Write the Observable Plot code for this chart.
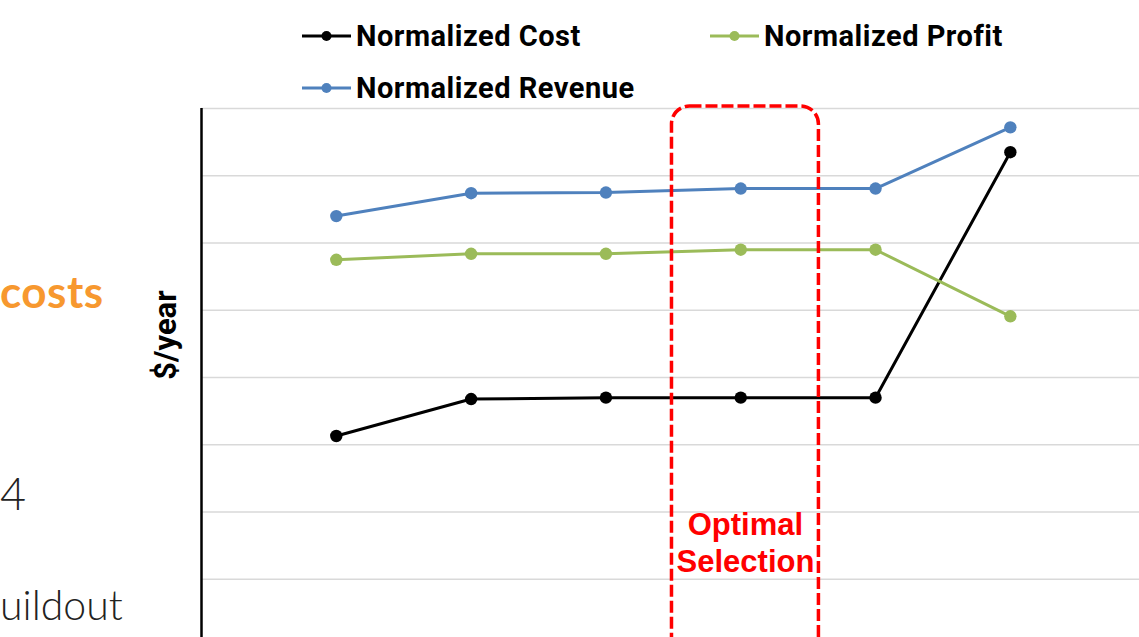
<!DOCTYPE html>
<html>
<head>
<meta charset="utf-8">
<script src="https://cdn.jsdelivr.net/npm/d3@7"></script>
<script src="https://cdn.jsdelivr.net/npm/@observablehq/plot@0.6"></script>
<style>
  html, body { margin: 0; padding: 0; background: #fff; overflow: hidden; width: 1139px; height: 637px; }
  #page { position: relative; width: 1139px; height: 637px; overflow: hidden; }
  #legend { position: relative; width: 1139px; height: 100px; }
  .item { position: absolute; display: flex; align-items: center; font-family: Roboto, "Liberation Sans", sans-serif; font-weight: 700; font-size: 29px; letter-spacing: 0.5px; color: #000; white-space: nowrap; }
  .item svg { margin-right: 5px; }
  .slide { position: absolute; left: 0; white-space: nowrap; font-family: Lato, "Open Sans", sans-serif; }
  #chart { position: absolute; left: 0; top: 100px; }
</style>
</head>
<body>
<div id="page">
  <div id="legend"></div>
  <div class="slide" style="top:265px; font-size:44px; font-weight:700; color:#F7982F; letter-spacing:0.5px;">costs</div>
  <div class="slide" style="top:466px; font-size:45px; font-weight:300; color:#222;">4</div>
  <div class="slide" style="top:580px; font-size:41px; font-weight:300; color:#222;">uildout</div>
  <div id="chart"></div>
</div>
<script>
// Data (arbitrary normalized units; no tick labels shown)
const categories = [1, 2, 3, 4, 5, 6];
const cost    = [3.13, 3.68, 3.70, 3.70, 3.70, 7.35];
const profit  = [5.75, 5.84, 5.84, 5.90, 5.90, 4.91];
const revenue = [6.40, 6.74, 6.75, 6.81, 6.81, 7.72];
const gridTicks = [1, 2, 3, 4, 5, 6, 7, 8];
const seriesNames = ["Normalized Cost", "Normalized Profit", "Normalized Revenue"];
const seriesColors = ["#000000", "#9BBB59", "#4F81BD"];
const optimalRange = [3.49, 4.58];
const optimalLabel = ["Optimal", "Selection"];
const yLabel = "$/year";

const seriesValues = [cost, profit, revenue];
const table = [];
seriesNames.forEach((name, s) => {
  categories.forEach((c, i) => table.push({series: name, x: c, y: seriesValues[s][i]}));
});

// Legend
const legendPos = [
  {left: 302, top: 36}, {left: 710, top: 36}, {left: 302, top: 88}
];
const legend = document.getElementById("legend");
seriesNames.forEach((name, i) => {
  const d = document.createElement("div");
  d.className = "item";
  d.style.left = legendPos[i].left + "px";
  d.style.top = (legendPos[i].top - 18) + "px";
  d.style.height = "36px";
  d.innerHTML = `<svg width="49" height="14"><line x1="0" x2="49" y1="7" y2="7" stroke="${seriesColors[i]}" stroke-width="3"/><circle cx="24.5" cy="7" r="5" fill="${seriesColors[i]}"/></svg><span>${name}</span>`;
  legend.appendChild(d);
});

const color = {domain: seriesNames, range: seriesColors};

const chart = Plot.plot({
  width: 1139,
  height: 546,
  marginLeft: 201,
  marginRight: 0,
  marginTop: 8,
  marginBottom: 0,
  x: {domain: [0, 6.958], axis: null},
  y: {domain: [0, 8], axis: null},
  color,
  style: {background: "transparent", overflow: "visible"},
  marks: [
    Plot.ruleY(gridTicks, {stroke: "#d9d9d9", strokeWidth: 1.5}),
    Plot.ruleX([0], {y1: -1, y2: 8, stroke: "#000", strokeWidth: 2.5}),
    Plot.line(table, {x: "x", y: "y", z: "series", stroke: "series", strokeWidth: 3}),
    Plot.dot(table, {x: "x", y: "y", fill: "series", r: 6.2}),
    Plot.rect([{x1: optimalRange[0], x2: optimalRange[1], y1: -1, y2: 8.03}], {
      x1: "x1", x2: "x2", y1: "y1", y2: "y2",
      fill: "none", stroke: "#FF0000", strokeWidth: 3.5, strokeDasharray: "12,4", rx: 18
    }),
    Plot.text(optimalLabel, {
      x: [(optimalRange[0] + optimalRange[1]) / 2, (optimalRange[0] + optimalRange[1]) / 2],
      y: [1.80, 1.25],
      text: d => d,
      fill: "#FF0000",
      fontSize: 31,
      fontWeight: 700,
      fontFamily: "Liberation Sans, Arial, sans-serif",
      lineAnchor: "middle"
    }),
    Plot.text([yLabel], {
      frameAnchor: "left",
      y: [4.63],
      dx: -35,
      rotate: -90,
      text: d => d,
      fill: "#000",
      fontSize: 31,
      fontWeight: 700,
      fontFamily: "Roboto, Liberation Sans, sans-serif",
      textAnchor: "middle",
      lineAnchor: "middle"
    })
  ]
});
document.getElementById("chart").appendChild(chart);
</script>
</body>
</html>
